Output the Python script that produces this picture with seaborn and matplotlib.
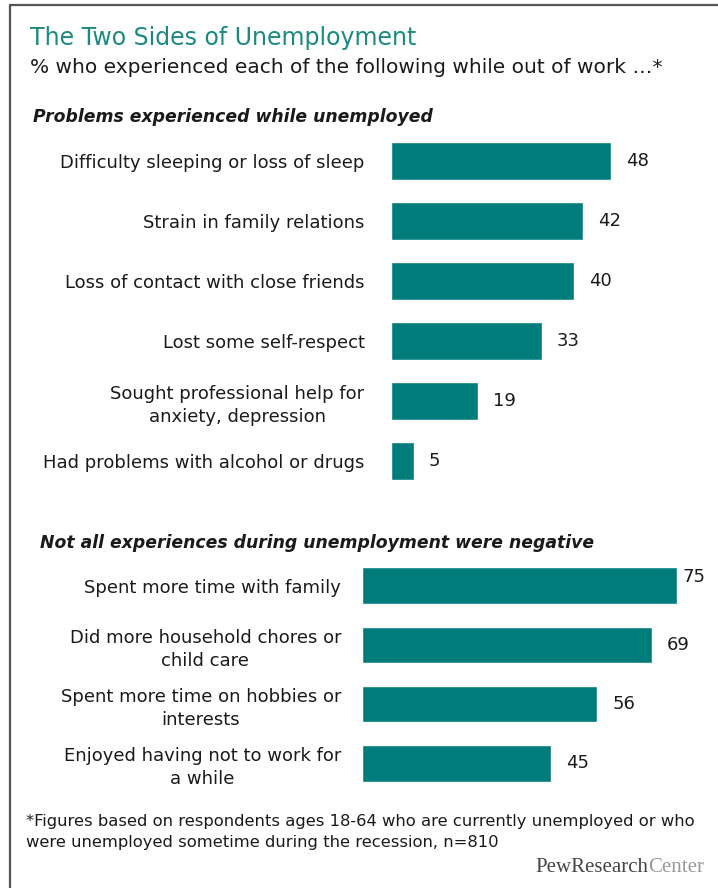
import matplotlib
matplotlib.use("Agg")
import matplotlib.pyplot as plt
import seaborn as sns
import pandas as pd
from matplotlib.lines import Line2D

# ---- data ----
problems = ["Difficulty sleeping or loss of sleep",
            "Strain in family relations",
            "Loss of contact with close friends",
            "Lost some self-respect",
            "Sought professional help for\nanxiety, depression",
            "Had problems with alcohol or drugs"]
problem_pct = [48, 42, 40, 33, 19, 5]

positives = ["Spent more time with family",
             "Did more household chores or\nchild care",
             "Spent more time on hobbies or\ninterests",
             "Enjoyed having not to work for\na while"]
positive_pct = [75, 69, 56, 45]

df_top = pd.DataFrame({"item": problems, "pct": problem_pct})
df_bot = pd.DataFrame({"item": positives, "pct": positive_pct})

W, H = 718, 888
BAR = "#007d7b"
TXT = "#1a1a1a"

sns.set_theme(style="white")
plt.rcParams["font.family"] = ["DejaVu Sans"]

fig = plt.figure(figsize=(W / 100, H / 100), dpi=100)


def px_axes(x0, y0, x1, y1):
    # pixel box (top-left origin) -> figure fraction
    return fig.add_axes([x0 / W, 1 - y1 / H, (x1 - x0) / W, (y1 - y0) / H])


def draw_panel(ax, data, xmax, pad):
    sns.barplot(data=data, x="pct", y="item", orient="h", color=BAR,
                width=0.62, saturation=1, ax=ax)
    ax.set_xlim(0, xmax)
    ax.set_xlabel("")
    ax.set_ylabel("")
    ax.set_xticks([])
    sns.despine(ax=ax, left=True, bottom=True)
    ax.tick_params(axis="y", length=0, pad=pad, labelsize=13, labelcolor=TXT)
    for lbl in ax.get_yticklabels():
        lbl.set_multialignment("center")
        lbl.set_linespacing(1.35)
    for bar, v in zip(ax.patches, data["pct"]):
        off = (15, 0)
        if v >= 70:
            # near the right edge, the label sits up and closer
            off = (6, 9)
        ax.annotate(str(v), (bar.get_width(), bar.get_y() + bar.get_height() / 2),
                    xytext=off, textcoords="offset pixels",
                    va="center", ha="left", fontsize=13, color=TXT,
                    annotation_clip=False)


ax1 = px_axes(391, 131, 391 + 60 * 4.58, 491)
draw_panel(ax1, df_top, 60, 19)

ax2 = px_axes(362, 556, 362 + 80 * 4.2, 793)
draw_panel(ax2, df_bot, 80, 15)


def ftext(x, y, s, **kw):
    return fig.text(x / W, 1 - y / H, s, **kw)


ftext(30, 38, "The Two Sides of Unemployment", fontsize=17, color="#1b8a80",
      va="center", ha="left")
ftext(30, 67, "% who experienced each of the following while out of work \u2026*",
      fontsize=14.5, color=TXT, va="center", ha="left")
ftext(33, 117, "Problems experienced while unemployed", fontsize=12.4,
      fontweight="bold", fontstyle="italic", color=TXT, va="center")
ftext(40, 543, "Not all experiences during unemployment were negative", fontsize=12.4,
      fontweight="bold", fontstyle="italic", color=TXT, va="center")
ftext(26, 832, "*Figures based on respondents ages 18-64 who are currently unemployed or who\n"
               "were unemployed sometime during the recession, n=810",
      fontsize=11.8, color=TXT, va="center", ha="left", linespacing=1.55)

# logo
t1 = ftext(535, 867, "PewResearch", family="Liberation Serif", fontsize=15,
           color="#444444", va="center", ha="left")
fig.canvas.draw()
bb = t1.get_window_extent()
fig.text((bb.x1) / W, 1 - 867 / H, "Center", family="Liberation Serif", fontsize=15,
         color="#999999", va="center", ha="left")

# frame
fig.add_artist(Line2D([10 / W, 1], [1 - 5 / H, 1 - 5 / H], color="#555555", lw=1.6,
                      transform=fig.transFigure))
fig.add_artist(Line2D([10 / W, 10 / W], [1 - 5 / H, 0], color="#555555", lw=1.6,
                      transform=fig.transFigure))

fig.savefig("out.png", dpi=100)
